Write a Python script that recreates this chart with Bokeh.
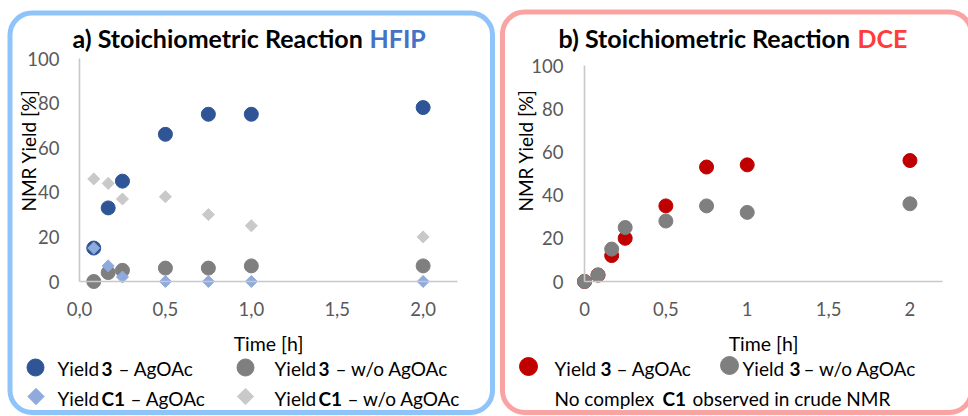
import math
from bokeh.plotting import figure
from bokeh.layouts import row
from bokeh.models import (Label, Range1d, FixedTicker, CustomJSTickFormatter,
                          BoxAnnotation)
from bokeh.embed import file_html
from bokeh.resources import INLINE

# ---------------- data ----------------
time_a = [0.083, 0.167, 0.25, 0.5, 0.75, 1.0, 2.0]
yield3_ag_a = [15, 33, 45, 66, 75, 75, 78]
yield3_wo_a = [0, 4, 5, 6, 6, 7, 7]
c1_ag_a = [15, 7, 2, 0, 0, 0, 0]
c1_wo_a = [46, 44, 37, 38, 30, 25, 20]

time_b = [0, 0.083, 0.167, 0.25, 0.5, 0.75, 1.0, 2.0]
yield3_ag_b = [0, 3, 12, 20, 35, 53, 54, 56]
yield3_wo_b = [0, 3, 15, 25, 28, 35, 32, 36]

x_ticks = [0, 0.5, 1.0, 1.5, 2.0]
y_ticks = [0, 20, 40, 60, 80, 100]
X_END = 2.2
Y_END = 100

# ---------------- style ----------------
FONT = "Lato"
C_BLUE = "#2F5597"
C_GRAY = "#7F7F7F"
C_LBLUE = "#8FAADC"
C_LGRAY = "#C9C9C9"
C_RED = "#C00000"
TICK_COLOR = "#595959"
AXIS_COLOR = "#C8C8C8"
TITLE_SIZE = "25px"
LEG_SIZE = "19px"

H = 416
W_A, W_B = 496, 472
OFF_B = W_A  # page x offset of right figure

# plot-area geometry (figure-relative pixels of the axes' ends)
GEO_A = dict(w=W_A, off=0, fl=79, fr=457, ft=58, fb=281)
GEO_B = dict(w=W_B, off=OFF_B, fl=88, fr=446, ft=65, fb=281)


class Mapper:
    def __init__(self, g):
        self.g = g
        self.kx = (g["fr"] - g["fl"]) / X_END
        self.ky = (g["fb"] - g["ft"]) / Y_END

    def __call__(self, px, py):
        g = self.g
        return (px - g["off"] - g["fl"]) / self.kx, (g["fb"] - py) / self.ky

    def ranges(self):
        g = self.g
        x0 = -g["fl"] / self.kx
        x1 = (g["w"] - g["fl"]) / self.kx
        y0 = -(H - g["fb"]) / self.ky
        y1 = g["fb"] / self.ky
        return Range1d(x0, x1), Range1d(y0, y1)


def make_fig(g, fmt_code, y_standoff):
    m = Mapper(g)
    xr, yr = m.ranges()
    p = figure(width=g["w"], height=H, output_backend="svg", toolbar_location=None,
               x_range=xr, y_range=yr,
               min_border_left=0, min_border_right=0,
               min_border_top=0, min_border_bottom=0,
               outline_line_color=None, background_fill_color="white",
               border_fill_color="white")
    p.grid.visible = False
    for ax in (p.xaxis[0], p.yaxis[0]):
        ax.axis_line_color = AXIS_COLOR
        ax.axis_line_width = 1.6
        ax.major_tick_line_color = None
        ax.minor_tick_line_color = None
        ax.major_label_text_font = FONT
        ax.major_label_text_font_size = "18.5px"
        ax.major_label_text_color = TICK_COLOR
        ax.fixed_location = 0
    p.xaxis.bounds = (0, X_END)
    p.yaxis.bounds = (0, Y_END)
    p.xaxis.ticker = FixedTicker(ticks=x_ticks)
    p.yaxis.ticker = FixedTicker(ticks=y_ticks)
    p.xaxis.formatter = CustomJSTickFormatter(code=fmt_code)
    p.xaxis.major_label_standoff = 14
    p.yaxis.major_label_standoff = y_standoff
    return p, m


def add_text(p, m, px, py, text, color="black", size=LEG_SIZE, bold=False,
             align="left", baseline="middle", angle=0):
    x, y = m(px, py)
    p.add_layout(Label(x=x, y=y, text=text,
                       text_font=FONT, text_font_size=size,
                       text_font_style="bold" if bold else "normal",
                       text_color=color, text_align=align, text_baseline=baseline,
                       angle=angle))


def add_border(p, m, left, right, top, bottom, color):
    l, t = m(left, top)
    r, b = m(right, bottom)
    p.add_layout(BoxAnnotation(left=l, right=r, top=t, bottom=b,
                               fill_alpha=0, line_color=color, line_alpha=1,
                               line_width=5, border_radius=22))


def legend_marker(p, m, px, py, marker, color, size, angle=0.0):
    x, y = m(px, py)
    p.scatter([x], [y], marker=marker, size=size, angle=angle,
              fill_color=color, line_color=color)


# ---------------- panel a ----------------
pa, ma = make_fig(GEO_A, "return tick.toFixed(1).replace('.', ',');", 14)
add_border(pa, ma, 9.5, 492, 12.5, 412, "#8EC4F9")

pa.scatter(time_a, yield3_ag_a, marker="circle", size=14, fill_color=C_BLUE,
           line_color=C_BLUE)
pa.scatter(time_a, yield3_wo_a, marker="circle", size=14, fill_color=C_GRAY,
           line_color=C_GRAY)
pa.scatter(time_a, c1_ag_a, marker="square", size=8.5, angle=math.pi / 4,
           fill_color=C_LBLUE, line_color=C_LBLUE)
pa.scatter(time_a, c1_wo_a, marker="square", size=8.5, angle=math.pi / 4,
           fill_color=C_LGRAY, line_color=C_LGRAY)

add_text(pa, ma, 72, 37, "a) Stoichiometric Reaction", size=TITLE_SIZE, bold=True)
add_text(pa, ma, 369, 37, "HFIP", color="#4472C4", size=TITLE_SIZE, bold=True)
add_text(pa, ma, 28, 150, "NMR Yield [%]", size="19px", align="center",
         angle=math.pi / 2)
add_text(pa, ma, 268, 343, "Time [h]", size="19.5px", align="center")

legend_marker(pa, ma, 35, 367, "circle", C_BLUE, 17)
add_text(pa, ma, 57, 368, "Yield")
add_text(pa, ma, 101, 368, "3", bold=True)
add_text(pa, ma, 118, 368, "– AgOAc")
legend_marker(pa, ma, 245, 367, "circle", C_GRAY, 17)
add_text(pa, ma, 274, 368, "Yield")
add_text(pa, ma, 318, 368, "3", bold=True)
add_text(pa, ma, 335, 368, "– w/o AgOAc")
legend_marker(pa, ma, 35.5, 396, "square", C_LBLUE, 11.5, math.pi / 4)
add_text(pa, ma, 57, 398, "Yield")
add_text(pa, ma, 101, 398, "C1", bold=True)
add_text(pa, ma, 130, 398, "– AgOAc")
legend_marker(pa, ma, 245, 396, "square", C_LGRAY, 11.5, math.pi / 4)
add_text(pa, ma, 274, 398, "Yield")
add_text(pa, ma, 318, 398, "C1", bold=True)
add_text(pa, ma, 347, 398, "– w/o AgOAc")

# ---------------- panel b ----------------
pb, mb = make_fig(GEO_B, "return String(tick).replace('.', ',');", 15)
add_border(pb, mb, 502, 971, 11.5, 412, "#F9A3A3")

pb.scatter(time_b, yield3_ag_b, marker="circle", size=14, fill_color=C_RED,
           line_color=C_RED)
pb.scatter(time_b, yield3_wo_b, marker="circle", size=14, fill_color=C_GRAY,
           line_color=C_GRAY)

add_text(pb, mb, 558, 37, "b) Stoichiometric Reaction", size=TITLE_SIZE, bold=True)
add_text(pb, mb, 857, 37, "DCE", color="#FF3B3B", size=TITLE_SIZE, bold=True)
add_text(pb, mb, 525, 150, "NMR Yield [%]", size="19px", align="center",
         angle=math.pi / 2)
add_text(pb, mb, 763, 343, "Time [h]", size="19.5px", align="center")

legend_marker(pb, mb, 528, 366, "circle", C_RED, 18)
add_text(pb, mb, 554, 368, "Yield")
add_text(pb, mb, 600, 368, "3", bold=True)
add_text(pb, mb, 616, 368, "– AgOAc")
legend_marker(pb, mb, 729, 365, "circle", C_GRAY, 18)
add_text(pb, mb, 742, 368, "Yield")
add_text(pb, mb, 789, 368, "3", bold=True)
add_text(pb, mb, 803, 368, "– w/o AgOAc")
add_text(pb, mb, 554, 398, "No complex")
add_text(pb, mb, 662, 398, "C1", bold=True)
add_text(pb, mb, 692, 398, "observed in crude NMR")

layout = row(pa, pb, spacing=0)
open("out.html", "w").write(file_html(layout, INLINE))
